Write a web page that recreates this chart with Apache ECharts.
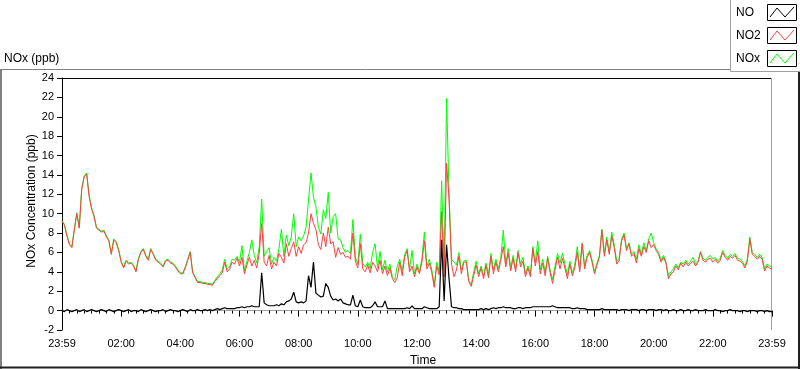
<!DOCTYPE html>
<html><head><meta charset="utf-8">
<script src="https://cdn.jsdelivr.net/npm/echarts/dist/echarts.min.js"></script>
<style>html,body{margin:0;padding:0;background:#fff}#c{width:800px;height:369px}</style>
</head><body><div id="c"></div>
<script>
// x tick labels (every 120 min from 23:59 of the previous day)
const tickLabels = ['23:59','02:00','04:00','06:00','08:00','10:00','12:00','14:00','16:00','18:00','20:00','22:00','23:59'];
const stepMinutes = 5; // samples every 5 minutes, 289 samples (one row = one hour)

// NO2 (ppb)
const no2 = [
 9.2,8.8,7.7,6.8,6.5,8.3,10.0,8.5,12.5,13.8,14.1,11.8,
 10.5,9.7,8.5,8.3,8.1,8.2,7.6,7.2,5.8,7.3,7.0,6.2,
 5.0,4.4,5.1,4.8,4.9,4.6,4.0,5.3,6.0,6.3,5.6,5.2,
 6.3,5.8,5.2,5.0,4.8,4.5,5.1,5.2,4.9,4.8,4.5,4.1,
 3.8,3.8,4.4,5.2,6.0,3.9,3.4,2.9,2.9,2.8,2.8,2.7,
 2.7,2.6,3.0,3.3,3.6,3.9,5.0,4.0,4.3,5.0,4.8,5.4,
 4.6,5.5,3.8,4.7,5.5,4.6,5.2,4.4,5.9,9.0,5.0,4.6,
 5.7,4.3,5.0,4.6,5.9,5.5,4.9,6.9,5.6,6.4,7.1,5.6,
 6.6,5.9,6.8,7.0,8.0,10.0,9.0,8.4,6.8,6.3,8.0,6.6,
 8.6,6.9,7.1,5.5,6.5,5.8,6.0,5.5,5.6,5.3,8.0,5.1,
 4.4,6.9,4.3,4.0,4.7,3.9,5.0,4.6,4.0,5.2,3.8,4.6,
 3.6,4.4,3.3,2.9,3.4,5.0,3.6,5.5,6.2,4.0,4.6,3.5,
 4.5,3.8,5.0,7.2,4.3,4.9,3.9,2.4,4.6,3.7,10.2,3.5,
 15.2,11.5,4.8,3.5,4.2,5.6,3.8,5.0,5.0,3.0,2.5,3.6,
 4.7,3.5,4.4,3.3,4.7,3.4,5.6,3.8,5.0,4.0,5.2,6.6,
 4.5,6.0,4.1,5.4,4.0,6.0,4.5,5.1,3.5,4.4,3.5,6.4,
 4.6,6.1,3.8,4.9,3.6,5.4,3.9,2.8,4.2,5.5,4.3,5.4,
 4.4,3.3,4.8,3.6,4.4,6.0,4.0,6.9,4.3,5.5,6.0,5.0,
 3.8,4.7,5.5,8.3,5.6,7.3,5.8,7.7,6.5,4.8,5.2,7.2,
 7.8,6.2,6.9,5.6,5.9,4.9,6.4,5.6,6.6,6.0,7.2,6.5,
 6.8,6.2,5.8,5.0,5.5,4.9,3.3,3.8,4.0,4.6,4.2,4.9,
 4.5,5.0,4.6,4.9,5.1,4.6,5.0,6.0,5.2,5.0,5.3,5.4,
 5.0,5.3,4.9,5.2,6.0,5.5,5.2,5.6,5.4,5.7,5.2,5.1,
 4.9,4.4,5.1,7.4,5.8,5.6,5.3,5.6,5.3,4.1,4.6,4.4,
 4.3
];

// NOx (ppb)
const nox = [
 9.3,8.9,7.8,6.9,6.6,8.4,10.1,8.6,12.6,13.9,14.2,11.9,
 10.6,9.8,8.6,8.4,8.2,8.3,7.7,7.3,5.9,7.4,7.1,6.3,
 5.1,4.5,5.2,4.9,5.0,4.7,4.1,5.4,6.1,6.4,5.7,5.3,
 6.4,5.9,5.3,5.1,4.9,4.6,5.2,5.3,5.0,4.9,4.6,4.2,
 3.9,3.9,4.5,5.3,6.1,4.0,3.5,3.0,3.0,2.9,2.9,2.8,
 2.8,2.7,3.1,3.5,3.8,4.2,5.3,4.3,4.5,5.3,5.2,5.6,
 5.0,6.7,4.1,5.1,6.0,7.3,5.7,4.9,6.6,11.5,5.6,6.1,
 6.5,4.8,5.5,5.1,6.4,8.4,5.6,7.8,6.7,7.6,10.0,6.6,
 7.6,7.2,7.7,8.6,11.4,14.2,11.7,10.7,8.6,7.9,10.4,9.5,
 12.2,8.0,9.7,10.0,7.4,7.3,6.5,6.0,6.2,5.9,9.4,5.5,
 4.8,7.9,4.9,4.5,5.0,4.3,6.0,6.9,4.4,6.1,4.2,5.2,
 4.0,4.8,3.5,3.2,4.6,5.3,4.1,5.8,6.4,4.3,6.2,3.8,
 4.8,4.0,5.4,8.1,4.6,5.3,4.2,2.6,5.0,4.0,13.4,4.2,
 21.9,12.0,5.3,5.0,4.7,6.0,4.2,5.1,5.2,3.1,2.7,4.0,
 5.1,3.8,4.6,3.6,4.9,3.7,5.9,4.2,5.3,4.3,5.5,8.3,
 4.8,6.4,4.4,5.7,4.3,6.2,4.8,5.5,3.8,4.6,3.8,6.6,
 5.0,7.2,4.2,5.3,4.0,5.6,4.2,3.2,4.6,5.9,4.9,5.9,
 4.8,3.7,5.1,3.9,4.7,6.6,4.3,7.0,4.6,5.7,6.2,5.2,
 4.0,4.9,5.7,8.4,5.9,7.6,6.0,8.1,6.8,5.1,5.4,7.4,
 8.0,6.4,7.0,5.8,6.1,5.3,6.8,5.8,7.0,6.2,7.4,8.0,
 7.0,6.4,6.0,5.2,5.7,5.0,3.6,4.0,4.3,4.8,4.4,5.0,
 4.8,5.2,4.8,5.1,5.5,4.8,5.1,6.1,5.4,5.2,5.5,5.7,
 5.3,5.5,5.1,5.4,6.2,5.7,5.4,5.8,5.6,5.9,5.4,5.3,
 5.1,4.6,5.3,7.6,6.0,5.8,5.5,5.8,5.5,4.3,4.8,4.6,
 4.5
];

// NO (ppb)
const no = [
 0.0,-0.1,0.1,0.0,-0.1,0.0,0.1,-0.1,0.0,0.1,-0.1,0.0,
 0.1,0.0,-0.1,0.0,0.1,0.0,-0.1,0.1,0.0,-0.1,0.0,0.1,
 0.0,-0.1,0.0,0.1,-0.1,0.0,0.0,-0.1,0.1,0.0,-0.1,0.0,
 0.1,0.0,-0.1,0.0,0.0,0.1,-0.1,0.0,0.1,0.0,0.0,-0.1,
 0.0,0.1,0.0,-0.1,0.1,0.0,0.0,0.1,0.0,0.0,0.1,0.0,
 0.1,0.0,0.1,0.2,0.1,0.2,0.3,0.2,0.2,0.2,0.2,0.3,
 0.3,0.4,0.3,0.4,0.4,0.5,0.4,0.4,0.4,3.9,0.8,0.6,
 0.5,0.5,0.5,0.6,0.5,0.7,0.6,0.9,1.0,1.2,1.9,0.9,
 0.8,0.9,0.8,1.0,3.6,2.4,5.0,1.8,1.6,1.4,1.5,2.8,
 2.4,1.5,1.1,1.2,1.0,1.2,0.8,0.7,0.6,0.6,1.6,0.5,
 0.4,1.1,0.4,0.3,0.3,0.3,0.5,0.9,0.4,0.4,0.4,1.0,
 0.2,0.2,0.2,0.2,0.2,0.2,0.2,0.2,0.3,0.2,0.5,0.2,
 0.2,0.2,0.2,0.4,0.3,0.2,0.2,0.2,0.2,0.4,7.3,1.0,
 6.8,3.3,0.4,0.3,0.3,0.2,0.2,0.1,0.1,0.1,0.1,0.1,
 0.1,0.1,0.2,0.1,0.2,0.1,0.2,0.3,0.2,0.3,0.3,0.4,
 0.3,0.3,0.3,0.2,0.2,0.3,0.3,0.2,0.3,0.3,0.3,0.4,
 0.4,0.4,0.4,0.4,0.4,0.4,0.4,0.5,0.4,0.3,0.3,0.3,
 0.3,0.3,0.3,0.2,0.2,0.3,0.2,0.2,0.2,0.1,0.1,0.1,
 0.1,0.1,0.1,0.2,0.1,0.1,0.1,0.1,0.1,0.1,0.0,0.1,
 0.1,0.1,0.0,0.1,0.1,0.1,0.0,0.1,0.1,0.0,0.1,0.1,
 0.1,0.0,0.1,0.1,0.0,0.1,0.0,0.0,0.1,0.0,0.0,0.1,
 0.0,0.0,0.1,0.0,0.0,0.1,0.0,0.0,0.0,0.1,0.0,0.0,
 0.0,0.1,0.0,0.0,-0.1,0.0,0.0,0.1,0.0,0.0,0.0,-0.1,
 0.0,0.0,-0.1,0.0,0.0,0.0,-0.1,0.0,0.0,-0.1,0.0,-0.1,
 -0.1
];

const legendNames = ['NO','NO2','NOx'];
const colors = { NO: '#000000', NO2: '#ff4040', NOx: '#00ff00' };

const FONT = '"Liberation Sans", Arial, sans-serif';
function pairs(arr) { return arr.map((v, i) => [i * stepMinutes, v]); }

const chart = echarts.init(document.getElementById('c'), null, { renderer: 'canvas' });

// legend graphic (LabVIEW style plot legend)
const legendGraphics = [
  { type: 'rect', shape: { x: 730.5, y: -1, width: 70, height: 72.5 }, style: { fill: '#fff', stroke: '#a0a0a0', lineWidth: 1 }, z: 10 }
];
legendNames.forEach((name, i) => {
  const top = 4 + i * 23;
  legendGraphics.push({ type: 'text', x: 736, y: top + 8.5, z: 11,
    style: { text: name, fill: '#000', font: '12px ' + FONT, textVerticalAlign: 'middle', verticalAlign: 'middle' } });
  legendGraphics.push({ type: 'rect', z: 11, shape: { x: 767.5, y: top + 0.5, width: 29, height: 16 },
    style: { fill: '#fff', stroke: '#000', lineWidth: 1 } });
  legendGraphics.push({ type: 'polyline', z: 12,
    shape: { points: [[770, top + 13], [777, top + 4], [785, top + 13], [794, top + 3]] },
    style: { stroke: colors[name], lineWidth: 1, fill: null } });
});

const option = {
  animation: false,
  backgroundColor: '#fff',
  grid: { left: 62, right: 28, top: 78, bottom: 39, containLabel: false },
  xAxis: {
    type: 'value', min: 0, max: 1440, interval: 120,
    axisLine: { show: true, lineStyle: { color: '#a0a0a0', width: 1 } },
    axisTick: { show: true, length: 6, lineStyle: { color: '#000' } },
    minorTick: { show: true, splitNumber: 8, length: 3, lineStyle: { color: '#000' } },
    splitLine: { show: false },
    axisLabel: { margin: 8, color: '#000', fontSize: 11, fontFamily: FONT,
      formatter: v => tickLabels[Math.round(v / 120)] || '' }
  },
  yAxis: {
    type: 'value', min: -2, max: 24, interval: 2,
    axisLine: { show: true, lineStyle: { color: '#000', width: 1 } },
    axisTick: { show: true, length: 5, lineStyle: { color: '#000' } },
    splitLine: { show: false },
    axisLabel: { margin: 8, color: '#000', fontSize: 11, fontFamily: FONT }
  },
  series: [
    { name: 'NOx', type: 'line', data: pairs(nox), showSymbol: false, symbol: 'none',
      lineStyle: { color: colors.NOx, width: 1 }, itemStyle: { color: colors.NOx }, silent: true, z: 2 },
    { name: 'NO2', type: 'line', data: pairs(no2), showSymbol: false, symbol: 'none',
      lineStyle: { color: colors.NO2, width: 1 }, itemStyle: { color: colors.NO2 }, silent: true, z: 3 },
    { name: 'NO', type: 'line', data: pairs(no), showSymbol: false, symbol: 'none',
      lineStyle: { color: colors.NO, width: 1.2 }, itemStyle: { color: colors.NO }, silent: true, z: 4 }
  ],
  graphic: [
    // outer frame
    { type: 'line', shape: { x1: 0, y1: 69.5, x2: 731, y2: 69.5 }, style: { stroke: '#808080', lineWidth: 1 } },
    { type: 'line', shape: { x1: 1, y1: 69, x2: 1, y2: 369 }, style: { stroke: '#808080', lineWidth: 2 } },
    { type: 'line', shape: { x1: 0, y1: 367.5, x2: 800, y2: 367.5 }, style: { stroke: '#202020', lineWidth: 2 } },
    { type: 'line', shape: { x1: 799, y1: 70, x2: 799, y2: 369 }, style: { stroke: '#202020', lineWidth: 2 } },
    // plot frame top (black) and right (grey)
    { type: 'line', shape: { x1: 62, y1: 78.5, x2: 772, y2: 78.5 }, style: { stroke: '#000', lineWidth: 1 } },
    { type: 'line', shape: { x1: 771.5, y1: 78, x2: 771.5, y2: 330 }, style: { stroke: '#a0a0a0', lineWidth: 1 } },
    // titles
    { type: 'text', x: 4, y: 59, style: { text: 'NOx (ppb)', fill: '#000', font: '12px ' + FONT, textVerticalAlign: 'middle', verticalAlign: 'middle' } },
    { type: 'text', x: 31.5, y: 201, rotation: Math.PI / 2,
      style: { text: 'NOx Concentration (ppb)', fill: '#000', font: '12px ' + FONT,
        textAlign: 'center', align: 'center', textVerticalAlign: 'middle', verticalAlign: 'middle' } },
    { type: 'text', x: 423, y: 361, style: { text: 'Time', fill: '#000', font: '12px ' + FONT,
        textAlign: 'center', align: 'center', textVerticalAlign: 'middle', verticalAlign: 'middle' } }
  ].concat(legendGraphics)
};
chart.setOption(option);
</script>
</body></html>
